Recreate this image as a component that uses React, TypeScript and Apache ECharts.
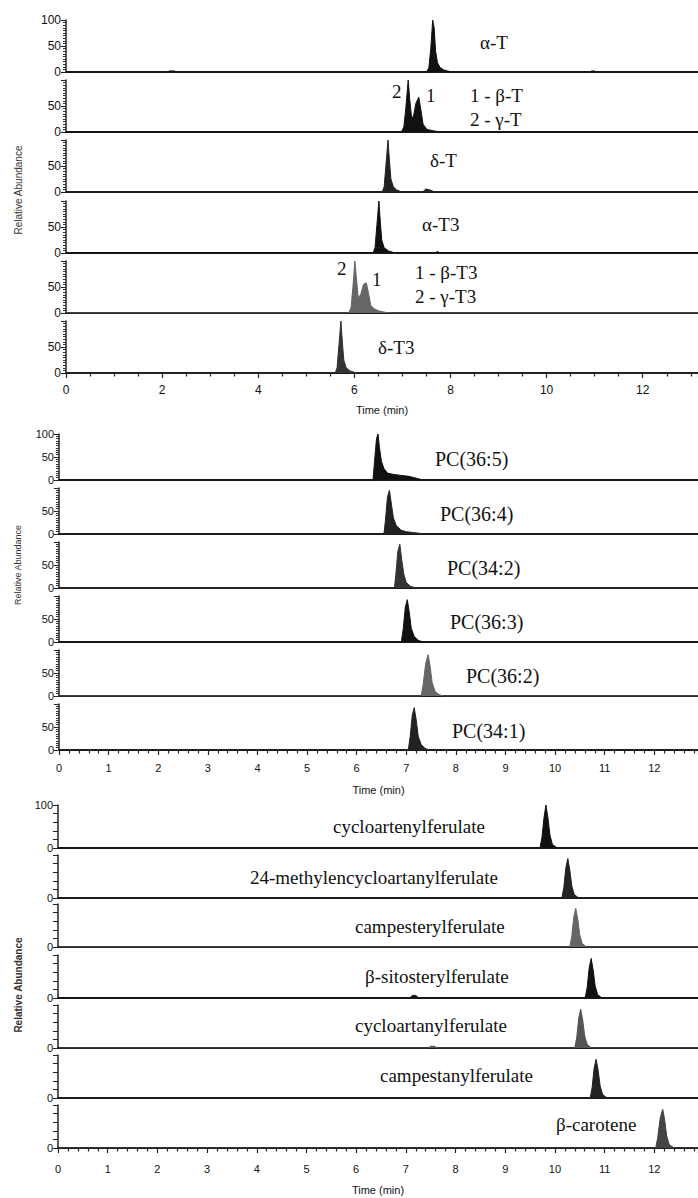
import React, { useEffect, useRef } from "react";
import * as echarts from "echarts";

type Pt = [number, number];

// ---------- Top group: tocopherols / tocotrienols (time in min, relative abundance %) ----------
const alphaT: Pt[] = [[0, 0], [2.1, 0], [2.15, 2], [2.25, 2], [2.3, 0], [7.5, 0], [7.55, 8], [7.59, 45], [7.63, 100], [7.66, 85], [7.69, 40], [7.73, 18], [7.78, 9], [7.86, 4], [7.98, 1], [8.08, 0], [10.9, 0], [10.93, 2], [11.0, 2], [11.03, 0], [13.3, 0]];
const betaGammaT: Pt[] = [[0, 0], [6.98, 0], [7.03, 10], [7.07, 45], [7.12, 100], [7.15, 65], [7.19, 28], [7.23, 30], [7.28, 55], [7.34, 67], [7.38, 45], [7.43, 15], [7.51, 5], [7.66, 2], [7.8, 0], [13.3, 0]];
const deltaT: Pt[] = [[0, 0], [6.58, 0], [6.62, 10], [6.66, 55], [6.7, 100], [6.73, 60], [6.76, 25], [6.81, 10], [6.88, 4], [6.96, 1], [7.06, 0], [7.42, 0], [7.49, 6], [7.57, 4], [7.65, 1], [7.72, 0], [13.3, 0]];
const alphaT3: Pt[] = [[0, 0], [6.39, 0], [6.43, 10], [6.47, 55], [6.51, 100], [6.54, 60], [6.57, 25], [6.62, 10], [6.71, 4], [6.81, 1], [6.91, 0], [7.68, 0], [7.73, 3], [7.78, 0], [13.3, 0]];
const betaGammaT3: Pt[] = [[0, 0], [5.88, 0], [5.93, 10], [5.97, 50], [6.01, 100], [6.04, 70], [6.08, 30], [6.13, 35], [6.19, 55], [6.25, 58], [6.29, 40], [6.34, 15], [6.41, 8], [6.51, 4], [6.66, 1], [6.8, 0], [13.3, 0]];
const deltaT3: Pt[] = [[0, 0], [5.6, 0], [5.64, 10], [5.68, 55], [5.72, 100], [5.75, 60], [5.78, 25], [5.83, 10], [5.91, 4], [6.01, 1], [6.11, 0], [13.3, 0]];

// ---------- Middle group: phosphatidylcholines ----------
const pc365: Pt[] = [[0, 0], [6.33, 0], [6.36, 40], [6.4, 90], [6.43, 100], [6.46, 70], [6.5, 40], [6.55, 25], [6.62, 15], [6.75, 12], [6.9, 10], [7.05, 8], [7.2, 4], [7.3, 1], [7.4, 0], [13, 0]];
const pc364: Pt[] = [[0, 0], [6.55, 0], [6.58, 30], [6.62, 80], [6.66, 95], [6.7, 65], [6.74, 35], [6.8, 18], [6.9, 8], [7.0, 5], [7.15, 3], [7.3, 1], [7.4, 0], [13, 0]];
const pc342: Pt[] = [[0, 0], [6.76, 0], [6.79, 30], [6.83, 80], [6.87, 95], [6.91, 60], [6.95, 30], [7.0, 12], [7.08, 4], [7.2, 0], [13, 0]];
const pc363: Pt[] = [[0, 0], [6.9, 0], [6.94, 30], [6.98, 75], [7.02, 92], [7.06, 65], [7.1, 30], [7.16, 12], [7.25, 3], [7.35, 0], [13, 0]];
const pc362: Pt[] = [[0, 0], [7.3, 0], [7.34, 25], [7.39, 70], [7.44, 90], [7.48, 65], [7.52, 30], [7.58, 10], [7.66, 3], [7.75, 0], [13, 0]];
const pc341: Pt[] = [[0, 0], [7.04, 0], [7.08, 30], [7.12, 75], [7.16, 92], [7.2, 65], [7.24, 30], [7.3, 12], [7.38, 3], [7.48, 0], [13, 0]];

// ---------- Bottom group: ferulates and carotene ----------
const cycloartenylF: Pt[] = [[0, 0], [9.7, 0], [9.74, 25], [9.78, 70], [9.82, 100], [9.86, 70], [9.9, 30], [9.95, 8], [10.05, 0], [13, 0]];
const methyleneF: Pt[] = [[0, 0], [10.14, 0], [10.18, 25], [10.22, 70], [10.26, 92], [10.3, 65], [10.34, 28], [10.39, 8], [10.48, 0], [13, 0]];
const campesterylF: Pt[] = [[0, 0], [10.3, 0], [10.34, 25], [10.38, 70], [10.42, 90], [10.46, 65], [10.5, 28], [10.55, 8], [10.64, 0], [13, 0]];
const sitosterylF: Pt[] = [[0, 0], [7.08, 0], [7.13, 6], [7.2, 6], [7.26, 0], [10.61, 0], [10.65, 25], [10.69, 70], [10.73, 92], [10.77, 65], [10.81, 28], [10.86, 8], [10.95, 0], [13, 0]];
const cycloartanylF: Pt[] = [[0, 0], [7.45, 0], [7.5, 4], [7.58, 4], [7.63, 0], [10.4, 0], [10.44, 25], [10.48, 70], [10.52, 90], [10.56, 65], [10.6, 28], [10.65, 8], [10.74, 0], [13, 0]];
const campestanylF: Pt[] = [[0, 0], [10.71, 0], [10.75, 25], [10.79, 70], [10.83, 90], [10.87, 65], [10.91, 28], [10.96, 8], [11.05, 0], [13, 0]];
const betaCarotene: Pt[] = [[0, 0], [12.03, 0], [12.07, 25], [12.12, 70], [12.17, 90], [12.21, 65], [12.25, 28], [12.3, 8], [12.4, 0], [13, 0]];

const topTraces = [alphaT, betaGammaT, deltaT, alphaT3, betaGammaT3, deltaT3];
const topColors = ["#111", "#111", "#222", "#111", "#666", "#333"];
const midTraces = [pc365, pc364, pc342, pc363, pc362, pc341];
const midColors = ["#111", "#222", "#333", "#111", "#666", "#222"];
const botTraces = [cycloartenylF, methyleneF, campesterylF, sitosterylF, cycloartanylF, campestanylF, betaCarotene];
const botColors = ["#111", "#222", "#666", "#111", "#555", "#222", "#444"];

const topNames = ["α-T", "1 - β-T", "2 - γ-T", "δ-T", "α-T3", "1 - β-T3", "2 - γ-T3", "δ-T3"];
const midNames = ["PC(36:5)", "PC(36:4)", "PC(34:2)", "PC(36:3)", "PC(36:2)", "PC(34:1)"];
const botNames = ["cycloartenylferulate", "24-methylencycloartanylferulate", "campesterylferulate", "β-sitosterylferulate", "cycloartanylferulate", "campestanylferulate", "β-carotene"];

const xTitle = "Time (min)";
const yTitle = "Relative Abundance";

const SANS = "Liberation Sans, Arial, sans-serif";
const SERIF = "Liberation Serif, Times New Roman, serif";

export default function App() {
  const ref = useRef<HTMLDivElement>(null);
  useEffect(() => {
    if (!ref.current) return;
    const chart = echarts.init(ref.current, null, { renderer: "svg" });

    const grids: any[] = [];
    const xAxes: any[] = [];
    const yAxes: any[] = [];
    const series: any[] = [];

    type Group = {
      traces: Pt[][];
      colors: string[];
      left: number;
      zeros: number[];
      height: number;
      xMax: number;
      xInterval: number;
      xMinorSplit: number;
      yInterval: number;
      yMinorSplit: number;
      labelSize: number;
      xMargin: number;
      nameGap: number;
      yFormatter: (v: number, i: number) => string;
    };

    const groups: Group[] = [
      {
        traces: topTraces, colors: topColors, left: 66,
        zeros: [72, 132, 192, 253, 313, 373], height: 52,
        xMax: 13.15, xInterval: 2, xMinorSplit: 4, yInterval: 50, yMinorSplit: 10, labelSize: 12,
        xMargin: 11, nameGap: 31,
        yFormatter: (v, i) => (v === 100 && i > 0 ? "" : String(v)),
      },
      {
        traces: midTraces, colors: midColors, left: 59,
        zeros: [480, 534, 588, 642, 696, 750], height: 46,
        xMax: 12.88, xInterval: 1, xMinorSplit: 5, yInterval: 50, yMinorSplit: 10, labelSize: 11,
        xMargin: 12, nameGap: 34,
        yFormatter: (v, i) => (v === 100 && i > 0 ? "" : String(v)),
      },
      {
        traces: botTraces, colors: botColors, left: 58,
        zeros: [848, 898, 947, 998, 1048, 1098, 1148], height: 43,
        xMax: 12.88, xInterval: 1, xMinorSplit: 5, yInterval: 20, yMinorSplit: 1, labelSize: 11,
        xMargin: 15, nameGap: 36,
        yFormatter: (v, i) => (v === 0 ? "0" : v === 100 && i === 0 ? "100" : ""),
      },
    ];

    groups.forEach((g) => {
      g.traces.forEach((tr, i) => {
        const idx = grids.length;
        const last = i === g.traces.length - 1;
        grids.push({ left: g.left, right: 0, top: g.zeros[i] - g.height, height: g.height, containLabel: false });
        xAxes.push({
          type: "value", gridIndex: idx, min: 0, max: g.xMax, interval: g.xInterval,
          axisLine: { show: true, onZero: false, lineStyle: { color: "#1a1a1a", width: 2 } },
          axisTick: { show: last, length: 5, lineStyle: { color: "#222", width: 1.2 } },
          minorTick: { show: last, splitNumber: g.xMinorSplit, length: 3.5, lineStyle: { color: "#222", width: 1.2 } },
          axisLabel: { show: last, showMaxLabel: false, color: "#111", fontFamily: SANS, fontSize: g.labelSize, margin: g.xMargin },
          splitLine: { show: false },
          name: last ? xTitle : "", nameLocation: "middle", nameGap: g.nameGap,
          nameTextStyle: { color: "#111", fontFamily: SANS, fontSize: 11 },
        });
        yAxes.push({
          type: "value", gridIndex: idx, min: 0, max: 100, interval: g.yInterval,
          axisLine: { show: true, lineStyle: { color: "#222", width: 1.5 } },
          axisTick: { show: true, length: 5, lineStyle: { color: "#222", width: 1 } },
          minorTick: { show: g.yMinorSplit > 1, splitNumber: g.yMinorSplit, length: 3, lineStyle: { color: "#333", width: 1 } },
          axisLabel: { color: "#111", fontFamily: SANS, fontSize: g.labelSize, margin: 5, formatter: (v: number) => g.yFormatter(v, i) },
          splitLine: { show: false },
        });
        series.push({
          type: "line", xAxisIndex: idx, yAxisIndex: idx, data: tr, showSymbol: false, silent: true,
          lineStyle: { color: g.colors[i], width: 1 },
          areaStyle: { color: g.colors[i], opacity: 1 },
        });
      });
    });

    const txt = (text: string, x: number, y: number, size = 19) => ({
      type: "text", x, y, silent: true,
      style: { text, fill: "#111", fontFamily: SERIF, fontSize: size, align: "left", verticalAlign: "middle", textAlign: "left", textVerticalAlign: "middle" },
    });
    const vtxt = (text: string, x: number, y: number, size: number, weight = "normal") => ({
      type: "text", x, y, rotation: Math.PI / 2, silent: true,
      style: { text, fill: "#333", fontFamily: SANS, fontSize: size, fontWeight: weight, align: "center", verticalAlign: "middle", textAlign: "center", textVerticalAlign: "middle" },
    });

    const graphic: any[] = [
      txt(topNames[0], 480, 42),
      txt("2", 392, 91), txt("1", 426, 95),
      txt(topNames[1], 470, 95), txt(topNames[2], 470, 119),
      txt(topNames[3], 430, 160),
      txt(topNames[4], 422, 224),
      txt("2", 337, 268), txt("1", 372, 279),
      txt(topNames[5], 415, 272), txt(topNames[6], 415, 296),
      txt(topNames[7], 378, 347),
      txt(midNames[0], 435, 459, 20), txt(midNames[1], 440, 514, 20), txt(midNames[2], 447, 568, 20),
      txt(midNames[3], 450, 622, 20), txt(midNames[4], 466, 676, 20), txt(midNames[5], 452, 731, 20),
      txt(botNames[0], 333, 826), txt(botNames[1], 250, 877), txt(botNames[2], 355, 926),
      txt(botNames[3], 365, 976), txt(botNames[4], 355, 1025), txt(botNames[5], 380, 1075),
      txt(botNames[6], 556, 1124),
      vtxt(yTitle, 18, 190, 10),
      vtxt(yTitle, 18, 565, 9),
      vtxt(yTitle, 18, 985, 10, "bold"),
    ];

    chart.setOption({
      animation: false,
      backgroundColor: "#fff",
      grid: grids,
      xAxis: xAxes,
      yAxis: yAxes,
      series,
      graphic,
    });
    return () => chart.dispose();
  }, []);
  return <div ref={ref} style={{ position: "absolute", left: 0, top: 0, width: 698, height: 1198 }} />;
}
